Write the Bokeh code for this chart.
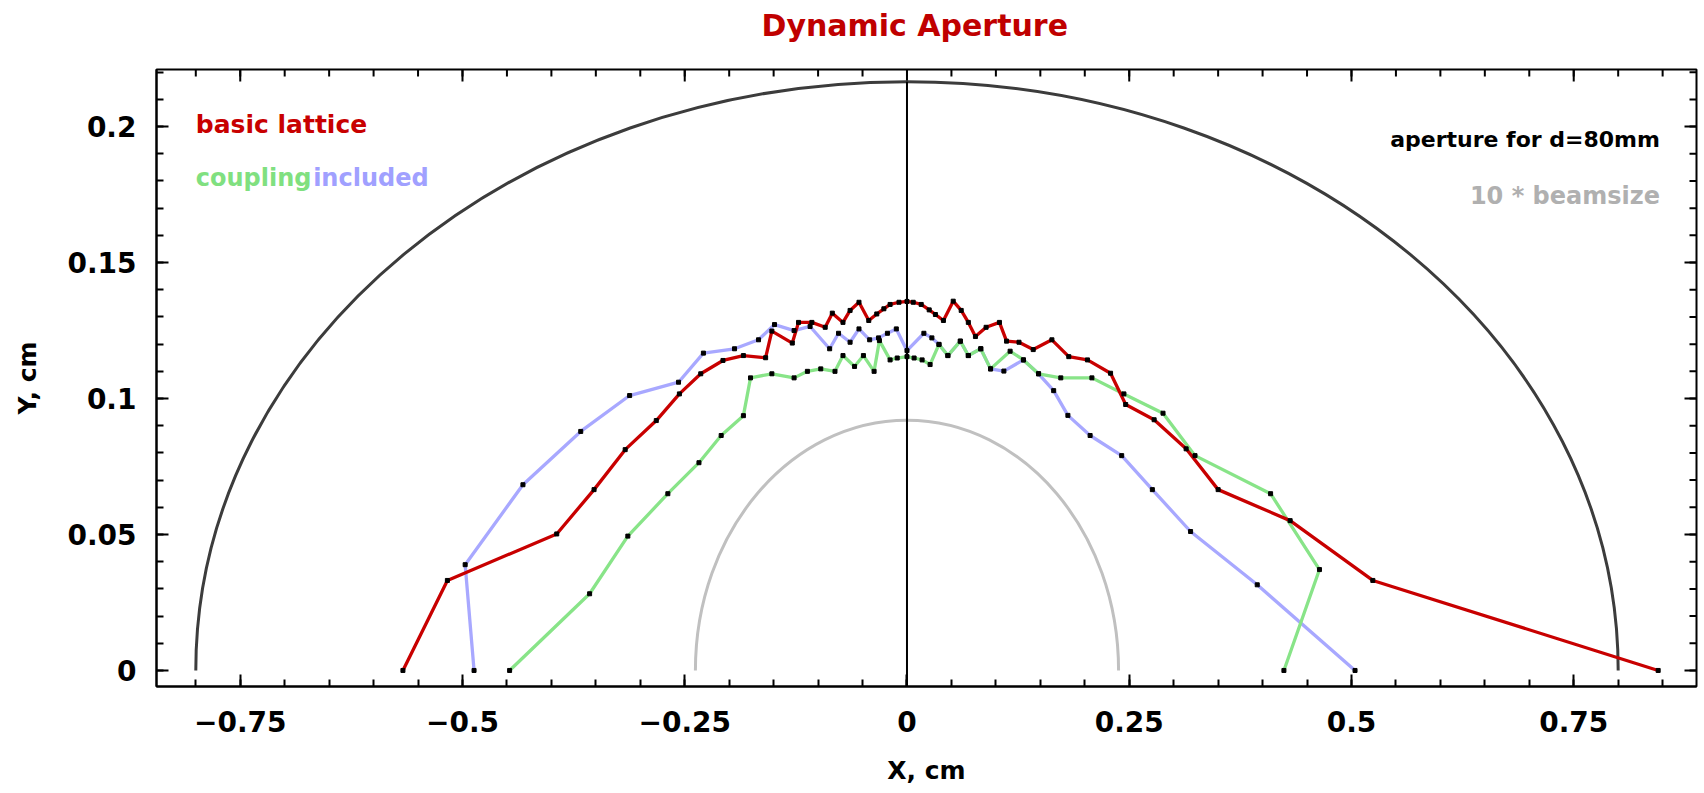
import numpy as np
from bokeh.plotting import figure
from bokeh.models import Range1d, Label, FixedTicker
from bokeh.embed import file_html
from bokeh.resources import INLINE

# ---------------- data (cm) ----------------
basic_x = [-0.567, -0.517, -0.394, -0.352, -0.317, -0.282, -0.256, -0.232, -0.207, -0.184,
           -0.159, -0.152, -0.129, -0.122, -0.107, -0.092, -0.084, -0.072, -0.064, -0.054,
           -0.043, -0.034, -0.026, -0.019, -0.009, 0.000, 0.007, 0.016, 0.025, 0.032,
           0.041, 0.052, 0.061, 0.069, 0.077, 0.089, 0.104, 0.112, 0.126, 0.142,
           0.163, 0.182, 0.203, 0.229, 0.246, 0.278, 0.314, 0.350, 0.431, 0.524, 0.845]
basic_y = [0.0, 0.0331, 0.0502, 0.0665, 0.0812, 0.0919, 0.1017, 0.1091, 0.1140, 0.1158,
           0.1150, 0.1248, 0.1204, 0.1280, 0.1280, 0.1262, 0.1314, 0.1280, 0.1324, 0.1354,
           0.1287, 0.1311, 0.1330, 0.1346, 0.1354, 0.1357, 0.1354, 0.1346, 0.1326, 0.1309,
           0.1287, 0.1358, 0.1324, 0.1280, 0.1228, 0.1262, 0.1280, 0.1211, 0.1207, 0.1180,
           0.1216, 0.1154, 0.1142, 0.1093, 0.0978, 0.0922, 0.0815, 0.0665, 0.0551, 0.0331, 0.0]

coupling_x = [-0.447, -0.357, -0.314, -0.269, -0.234, -0.209, -0.184, -0.176, -0.152, -0.127,
              -0.112, -0.097, -0.081, -0.072, -0.059, -0.049, -0.037, -0.031, -0.019, -0.011,
              0.000, 0.008, 0.017, 0.026, 0.036, 0.046, 0.060, 0.069, 0.083, 0.094,
              0.116, 0.131, 0.148, 0.173, 0.208, 0.244, 0.288, 0.324, 0.409, 0.464, 0.424]
coupling_y = [0.0, 0.0282, 0.0494, 0.0650, 0.0764, 0.0864, 0.0937, 0.1076, 0.1091, 0.1076,
              0.1100, 0.1109, 0.1100, 0.1158, 0.1118, 0.1158, 0.1100, 0.1213, 0.1142, 0.1149,
              0.1154, 0.1149, 0.1142, 0.1125, 0.1199, 0.1158, 0.1211, 0.1158, 0.1183, 0.1109,
              0.1174, 0.1142, 0.1091, 0.1076, 0.1076, 0.1017, 0.0946, 0.0790, 0.0650, 0.0371, 0.0]

included_x = [-0.487, -0.497, -0.432, -0.367, -0.312, -0.257, -0.229, -0.194, -0.167, -0.149,
              -0.127, -0.109, -0.087, -0.077, -0.064, -0.054, -0.042, -0.032, -0.022, -0.012,
              0.000, 0.019, 0.028, 0.036, 0.046, 0.060, 0.069, 0.083, 0.094, 0.109,
              0.131, 0.148, 0.165, 0.181, 0.206, 0.2415, 0.276, 0.319, 0.394, 0.504]
included_y = [0.0, 0.0389, 0.0683, 0.0879, 0.1011, 0.1060, 0.1167, 0.1183, 0.1216, 0.1272,
              0.1250, 0.1265, 0.1183, 0.1240, 0.1207, 0.1256, 0.1216, 0.1223, 0.1240, 0.1256,
              0.1176, 0.1240, 0.1223, 0.1199, 0.1158, 0.1211, 0.1158, 0.1183, 0.1109, 0.1101,
              0.1142, 0.1091, 0.1029, 0.0938, 0.0864, 0.0790, 0.0665, 0.0511, 0.0315, 0.0]

# aperture for d=80mm (half-ellipse semi-axes) and 10 * beamsize
aperture_a = 0.80
aperture_b = 0.2165
beam_a = 0.238
beam_b = 0.092

x_ticks = [-0.75, -0.5, -0.25, 0, 0.25, 0.5, 0.75]
x_tick_labels = ["\u22120.75", "\u22120.5", "\u22120.25", "0", "0.25", "0.5", "0.75"]
y_ticks = [0, 0.05, 0.1, 0.15, 0.2]
y_tick_labels = ["0", "0.05", "0.1", "0.15", "0.2"]

X_LO, X_HI = -0.8442, 0.8881
Y_LO, Y_HI = -0.0059, 0.221

RED = "#c80000"
GREEN = "#88e488"
BLUE = "#a8a8ff"
DARK = "#3c3c3c"
LIGHT = "#c0c0c0"
FONT = "DejaVu Sans"

p = figure(width=1700, height=793, x_range=Range1d(X_LO, X_HI), y_range=Range1d(Y_LO, Y_HI),
           output_backend="svg", toolbar_location=None,
           min_border_left=156, min_border_right=4, min_border_top=69, min_border_bottom=107)
p.grid.visible = False
p.outline_line_color = "black"
p.outline_line_width = 2
p.background_fill_color = "white"
p.border_fill_color = "white"

x_minor = [round(v, 2) for v in np.arange(-0.85, 0.851, 0.05)]
y_minor = [round(v, 3) for v in np.arange(0.0, 0.2201, 0.01)]

for ax in (p.xaxis[0], p.yaxis[0]):
    ax.axis_line_color = "black"
    ax.axis_line_width = 2
    ax.major_tick_in = 12
    ax.major_tick_out = 0
    ax.minor_tick_in = 7
    ax.minor_tick_out = 0
    ax.major_tick_line_width = 2
    ax.minor_tick_line_width = 2
    ax.major_tick_line_color = "black"
    ax.minor_tick_line_color = "black"
    ax.major_label_text_font = FONT
    ax.major_label_text_font_style = "bold"
    ax.major_label_text_font_size = "28px"
    ax.major_label_text_color = "black"
    ax.axis_label_text_font = FONT
    ax.axis_label_text_font_style = "bold"
    ax.axis_label_text_font_size = "25px"
    ax.axis_label_text_color = "black"

p.xaxis.ticker = FixedTicker(ticks=x_ticks, minor_ticks=x_minor)
p.yaxis.ticker = FixedTicker(ticks=y_ticks, minor_ticks=y_minor)
p.xaxis.major_label_overrides = dict(zip(x_ticks, x_tick_labels))
p.yaxis.major_label_overrides = dict(zip(y_ticks, y_tick_labels))
p.xaxis.axis_label = "X, cm"
p.yaxis.axis_label = "Y, cm"
p.xaxis.major_label_standoff = 24
p.yaxis.major_label_standoff = 20
p.xaxis.axis_label_standoff = 21
p.yaxis.axis_label_standoff = 22

# chart title (bottom padding lifts it away from the frame)
p.title.text = "Dynamic Aperture"
p.title.align = "left"
p.title.offset = 605
p.title.text_color = "#c00000"
p.title.text_font = FONT
p.title.text_font_style = "bold"
p.title.text_font_size = "30px"
p.title.standoff = 0
try:
    p.title.padding = dict(left=0, right=0, top=0, bottom=27)
except Exception:
    pass

# inward ticks on the top and right frame edges (half of each dash is clipped away)
p.scatter(x_minor, [Y_HI] * len(x_minor), marker="dash", size=14, angle=np.pi / 2,
          line_color="black", line_width=2)
p.scatter(x_ticks, [Y_HI] * len(x_ticks), marker="dash", size=24, angle=np.pi / 2,
          line_color="black", line_width=2)
p.scatter([X_HI] * len(y_minor), y_minor, marker="dash", size=14,
          line_color="black", line_width=2)
p.scatter([X_HI] * len(y_ticks), y_ticks, marker="dash", size=24,
          line_color="black", line_width=2)

# half-ellipse curves (aperture and beamsize) drawn as cubic Bezier arcs
K = 0.5523


def half_ellipse(a, b, color, width):
    p.bezier(x0=[-a, 0.0], y0=[0.0, b], x1=[0.0, a], y1=[b, 0.0],
             cx0=[-a, K * a], cy0=[K * b, b], cx1=[-K * a, a], cy1=[b, K * b],
             line_color=color, line_width=width)


half_ellipse(aperture_a, aperture_b, DARK, 3)
half_ellipse(beam_a, beam_b, LIGHT, 3)

p.line(included_x, included_y, line_color=BLUE, line_width=3.3)
p.line(coupling_x, coupling_y, line_color=GREEN, line_width=3.3)
p.line(basic_x, basic_y, line_color=RED, line_width=3.3)

p.segment(x0=[0.0], y0=[Y_LO], x1=[0.0], y1=[aperture_b], line_color="black", line_width=2)

for xs, ys in ((included_x, included_y), (coupling_x, coupling_y), (basic_x, basic_y)):
    p.scatter(xs, ys, marker="square", size=4, color="black")


# legend texts
def add_label(x, y, text, color, size, align="left"):
    p.add_layout(Label(x=x, y=y, text=text, text_color=color, text_font=FONT,
                       text_font_style="bold", text_font_size=size,
                       text_align=align, text_baseline="alphabetic"))


add_label(-0.800, 0.2006, "basic lattice", RED, "25px")
add_label(-0.800, 0.1812, "coupling", "#80e080", "24px")
add_label(-0.668, 0.1812, "included", "#a0a0ff", "24px")
add_label(0.847, 0.1951, "aperture for d=80mm", "black", "22px", align="right")
add_label(0.847, 0.1746, "10 * beamsize", "#b0b0b0", "24px", align="right")

open("out.html", "w").write(file_html(p, INLINE))
